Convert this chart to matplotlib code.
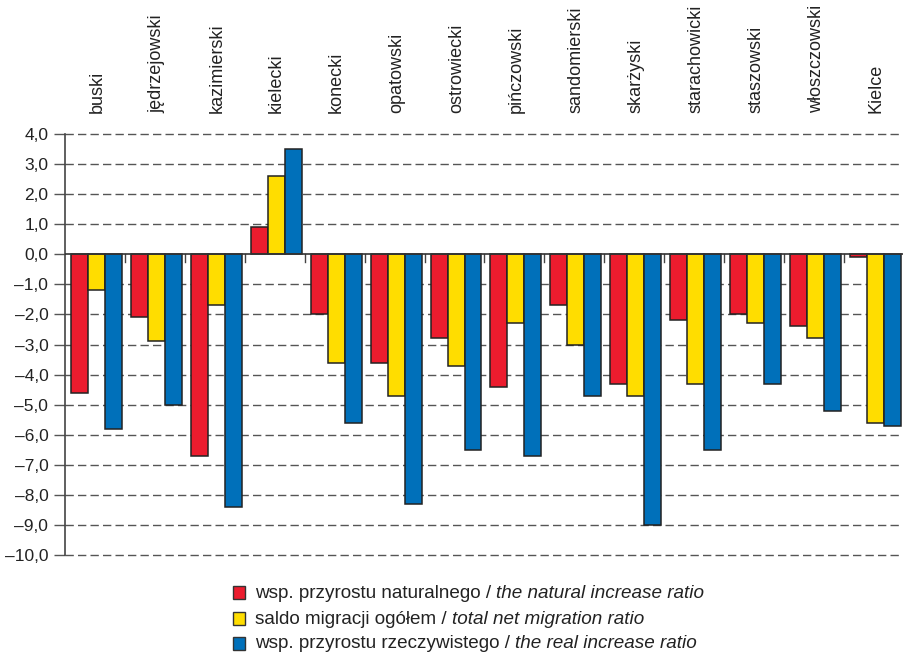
import matplotlib
matplotlib.use("Agg")
import matplotlib.pyplot as plt
from matplotlib.patches import Rectangle
import numpy as np

plt.rcParams['font.family'] = ['Liberation Sans', 'DejaVu Sans']

districts = ["buski", "jędrzejowski", "kazimierski", "kielecki", "konecki",
             "opatowski", "ostrowiecki", "pińczowski", "sandomierski",
             "skarżyski", "starachowicki", "staszowski", "włoszczowski", "Kielce"]

natural_increase = [-4.6, -2.1, -6.7, 0.9, -2.0, -3.6, -2.8, -4.4, -1.7,
                    -4.3, -2.2, -2.0, -2.4, -0.1]
net_migration = [-1.2, -2.9, -1.7, 2.6, -3.6, -4.7, -3.7, -2.3, -3.0,
                 -4.7, -4.3, -2.3, -2.8, -5.6]
real_increase = [-5.8, -5.0, -8.4, 3.5, -5.6, -8.3, -6.5, -6.7, -4.7,
                 -9.0, -6.5, -4.3, -5.2, -5.7]

series_labels = [("wsp. przyrostu naturalnego / ", "the natural increase ratio"),
                 ("saldo migracji ogółem / ", "total net migration ratio"),
                 ("wsp. przyrostu rzeczywistego / ", "the real increase ratio")]
colors = ["#EC1C2E", "#FFDD00", "#0070BA"]

y_ticks = list(range(-10, 5))

fig = plt.figure(figsize=(9.04, 6.54), dpi=100)
ax = fig.add_axes([65 / 904, 1 - 555 / 654, 1 - 65 / 904, (555 - 134) / 654])

n = len(districts)
x = np.arange(n)
bw = 0.2833
for j, vals in enumerate([natural_increase, net_migration, real_increase]):
    ax.bar(x + 0.1 + j * bw, vals, width=bw, align='edge', color=colors[j],
           edgecolor='#222222', linewidth=1.1, zorder=3)

ax.set_xlim(0, n)
ax.set_ylim(-10, 4)

# horizontal dashed grid
for yv in y_ticks:
    if yv == 0:
        ax.axhline(0, color='#333333', lw=1.2, zorder=4)
    else:
        ax.axhline(yv, color='#555555', lw=1.0, ls=(0, (6, 3)), zorder=1,
                   clip_on=False)

# small separators between districts below the zero line
for b in range(1, n):
    ax.plot([b, b], [0, -0.27], color='#444444', lw=1.0, zorder=2)

ax.set_yticks(y_ticks)
ax.set_yticklabels([("–" if v < 0 else "") + f"{abs(v)},0" for v in y_ticks],
                   fontsize=12.5, color='#222222')
ax.tick_params(axis='y', length=8, width=1.0, color='#555555', pad=4)
ax.set_xticks([])

for s in ['top', 'right', 'bottom']:
    ax.spines[s].set_visible(False)
ax.spines['left'].set_color('#444444')
ax.spines['left'].set_linewidth(1.2)

# district names above the plot
for i, name in enumerate(districts):
    ax.annotate(name, xy=(i + 0.5, 1.0), xycoords=('data', 'axes fraction'),
                xytext=(2, 21), textcoords='offset pixels',
                rotation=90, ha='center', va='bottom', fontsize=13,
                color='#222222', annotation_clip=False)

# legend with mixed upright / italic labels
leg_x = 233 / 904
rows_y = [593, 619, 644]
for (plain, italic), c, ry in zip(series_labels, colors, rows_y):
    yc = 1 - ry / 654
    fig.patches.append(Rectangle((leg_x, yc - 6 / 654), 12 / 904, 13 / 654,
                                 transform=fig.transFigure, facecolor=c,
                                 edgecolor='#333333', linewidth=1.0))
    t1 = fig.text(255 / 904, yc, plain, fontsize=13.6, va='center',
                  ha='left', color='#222222')
    ax.annotate(italic, xy=(1, 0.5), xycoords=t1, va='center', ha='left',
                fontsize=13.6, style='italic', color='#222222',
                annotation_clip=False)

fig.savefig("out.png", dpi=100)
